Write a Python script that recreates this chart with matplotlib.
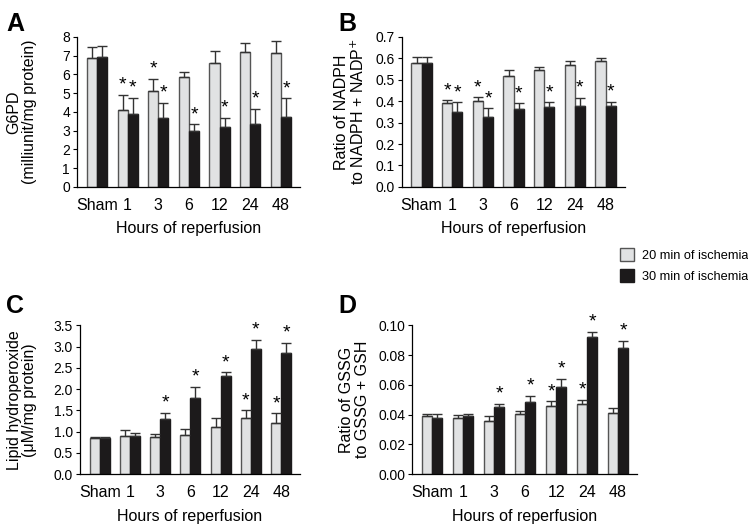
import numpy as np
import matplotlib.pyplot as plt
from matplotlib.patches import Patch

plt.rcParams['font.family'] = ['Liberation Sans', 'DejaVu Sans']

hours = ['Sham', '1', '3', '6', '12', '24', '48']

# A: G6PD
g6pd_20 = [6.86, 4.10, 5.12, 5.85, 6.60, 7.18, 7.13]
g6pd_20_err = [0.62, 0.80, 0.66, 0.30, 0.67, 0.52, 0.64]
g6pd_30 = [6.91, 3.87, 3.66, 3.00, 3.20, 3.34, 3.72]
g6pd_30_err = [0.63, 0.88, 0.84, 0.34, 0.50, 0.84, 1.01]
g6pd_star20 = [0, 1, 1, 0, 0, 0, 0]
g6pd_star30 = [0, 1, 1, 1, 1, 1, 1]

# B: NADPH / (NADPH + NADP+)
nadph_20 = [0.578, 0.392, 0.402, 0.519, 0.547, 0.567, 0.586]
nadph_20_err = [0.029, 0.012, 0.016, 0.025, 0.015, 0.019, 0.018]
nadph_30 = [0.578, 0.350, 0.325, 0.364, 0.371, 0.380, 0.377]
nadph_30_err = [0.029, 0.045, 0.042, 0.026, 0.024, 0.035, 0.020]
nadph_star20 = [0, 1, 1, 0, 0, 0, 0]
nadph_star30 = [0, 1, 1, 1, 1, 1, 1]

# C: lipid hydroperoxide
lipid_20 = [0.85, 0.90, 0.88, 0.92, 1.10, 1.33, 1.21]
lipid_20_err = [0.03, 0.13, 0.07, 0.14, 0.22, 0.17, 0.22]
lipid_30 = [0.84, 0.90, 1.30, 1.79, 2.30, 2.95, 2.85]
lipid_30_err = [0.04, 0.07, 0.14, 0.27, 0.09, 0.20, 0.24]
lipid_star20 = [0, 0, 0, 0, 0, 1, 1]
lipid_star30 = [0, 0, 1, 1, 1, 1, 1]

# D: GSSG / (GSSG + GSH)
gssg_20 = [0.0389, 0.0374, 0.0360, 0.0403, 0.0456, 0.0470, 0.0414]
gssg_20_err = [0.0016, 0.0024, 0.0031, 0.0024, 0.0032, 0.0027, 0.0033]
gssg_30 = [0.0376, 0.0389, 0.0452, 0.0483, 0.0582, 0.0922, 0.0850]
gssg_30_err = [0.0027, 0.0016, 0.0020, 0.0045, 0.0058, 0.0035, 0.0045]
gssg_star20 = [0, 0, 0, 0, 1, 1, 0]
gssg_star30 = [0, 0, 1, 1, 1, 1, 1]

light = '#e1e2e3'
dark = '#1c1a1b'
w = 0.33

fig = plt.figure(figsize=(7.48, 5.28), dpi=100)


def panel(rect, v20, e20, v30, e30, s20, s30, ymax, step, fmt, ylabel, label_x, letter, letter_xy):
    ax = fig.add_axes(rect)
    x = np.arange(len(hours))
    z = np.zeros(len(hours))
    ax.bar(x - w / 2, v20, w, color=light, edgecolor='#555555', linewidth=1.0,
           yerr=[z, e20], error_kw=dict(ecolor='#333333', elinewidth=1.0, capsize=3.3, capthick=1.0))
    ax.bar(x + w / 2, v30, w, color=dark, edgecolor=dark, linewidth=1.0,
           yerr=[z, e30], error_kw=dict(ecolor='#333333', elinewidth=1.0, capsize=3.3, capthick=1.0))
    off = ymax * 0.008
    for i in range(len(hours)):
        if s20[i]:
            ax.text(x[i] - w / 2, v20[i] + e20[i] + off, '*', ha='center', va='bottom', fontsize=14)
        if s30[i]:
            ax.text(x[i] + w / 2, v30[i] + e30[i] + off, '*', ha='center', va='bottom', fontsize=14)
    ax.set_xlim(-0.65, 6.62)
    ax.set_ylim(0, ymax)
    ticks = np.arange(0, ymax + step / 2, step)
    ax.set_yticks(ticks)
    ax.set_yticklabels([fmt.format(t) for t in ticks], fontsize=10)
    ax.set_xticks(x)
    ax.set_xticklabels(hours, fontsize=11.5)
    ax.tick_params(axis='x', length=0, pad=8)
    ax.tick_params(axis='y', length=3, width=0.8, pad=2)
    for s in ['top', 'right']:
        ax.spines[s].set_visible(False)
    ax.spines['left'].set_linewidth(0.9)
    ax.spines['bottom'].set_linewidth(0.9)
    ax.set_xlabel('Hours of reperfusion', fontsize=11.5, labelpad=6)
    ax.set_ylabel(ylabel, fontsize=11.5, linespacing=1.05)
    ax.yaxis.set_label_coords(label_x, 0.5)
    fig.text(letter_xy[0], letter_xy[1], letter, fontsize=18, fontweight='bold', ha='left', va='center')
    return ax


panel([0.103, 0.646, 0.298, 0.284], g6pd_20, g6pd_20_err, g6pd_30, g6pd_30_err,
      g6pd_star20, g6pd_star30, 8, 1, '{:.0f}', 'G6PD\n(milliunit/mg protein)', -0.18,
      'A', (0.008, 0.955))
panel([0.537, 0.646, 0.298, 0.284], nadph_20, nadph_20_err, nadph_30, nadph_30_err,
      nadph_star20, nadph_star30, 0.7, 0.1, '{:.1f}', 'Ratio of NADPH\nto NADPH + NADP$^{+}$', -0.155,
      'B', (0.452, 0.955))
panel([0.107, 0.102, 0.294, 0.282], lipid_20, lipid_20_err, lipid_30, lipid_30_err,
      lipid_star20, lipid_star30, 3.5, 0.5, '{:.1f}', 'Lipid hydroperoxide\n(μM/mg protein)', -0.195,
      'C', (0.008, 0.42))
panel([0.551, 0.102, 0.301, 0.282], gssg_20, gssg_20_err, gssg_30, gssg_30_err,
      gssg_star20, gssg_star30, 0.10, 0.02, '{:.2f}', 'Ratio of GSSG\nto GSSG + GSH', -0.187,
      'D', (0.452, 0.42))

handles = [Patch(facecolor=light, edgecolor='#555555', label='20 min of ischemia'),
           Patch(facecolor=dark, edgecolor=dark, label='30 min of ischemia')]
fig.legend(handles=handles, loc='upper left', bbox_to_anchor=(0.829, 0.53), frameon=False,
           fontsize=9.2, handlelength=1.1, handleheight=1.15, handletextpad=0.6, labelspacing=0.6,
           borderaxespad=0, borderpad=0)

fig.savefig('out.png', dpi=100)
